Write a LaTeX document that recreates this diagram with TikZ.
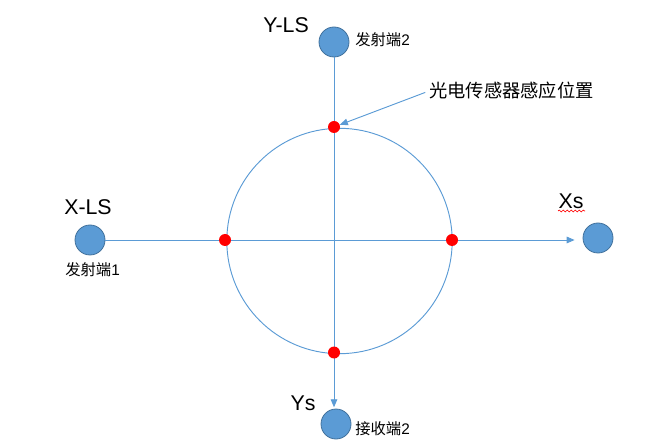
\documentclass[tikz,border=0pt]{standalone}
\usepackage{fontspec}
\setmainfont{Liberation Sans}
\newfontfamily\cjk{Noto Sans CJK SC}
\usetikzlibrary{arrows.meta,decorations.pathmorphing}
\definecolor{lsblue}{HTML}{5B9BD5}
\definecolor{lsedge}{HTML}{41719C}
\tikzset{
  lsdot/.style={circle,fill=lsblue,draw=lsedge,line width=0.6pt,minimum size=22.5pt,inner sep=0pt},
  reddot/.style={circle,fill=red,minimum size=9pt,inner sep=0pt},
  bigtxt/.style={font=\fontsize{16}{18}\selectfont,inner sep=0pt},
  smalltxt/.style={font=\fontsize{11.5}{13}\selectfont,inner sep=0pt,anchor=west},
  conn/.style={draw=lsblue,line width=0.7pt},
  arr/.style={conn,-{Triangle[length=6pt,width=5pt]}}
}
\begin{document}
\begin{tikzpicture}[x=0.75pt,y=-0.75pt]
\useasboundingbox (0,0) rectangle (648,448);
% big circle
\draw[lsblue,line width=0.7pt] (339.5,241) circle[radius=112.7];
% transmitter / receiver circles
\node[lsdot] (yls) at (334,42) {};
\node[lsdot] (xls) at (90,240) {};
\node[lsdot] (xs) at (598,238) {};
\node[lsdot] (ys) at (336,424) {};
% axes
\draw[arr,shorten >=6pt] (xls) -- (xs.west |- xls);
\draw[arr,shorten >=1pt] (yls) -- (yls |- ys.north);
% sensor points
\node[reddot] (dtop) at (334,127) {};
\node[reddot] (dbot) at (334,352.5) {};
\node[reddot] (dleft) at (225,240) {};
\node[reddot] (dright) at (452,240) {};
% labels
\node[bigtxt] (tyls) at (286,25) {Y-LS};
\node[bigtxt] (txls) at (88,207) {X-LS};
\node[bigtxt] (txs) at (571,201) {Xs};
\node[bigtxt] (tys) at (303,403) {Ys};
\node[smalltxt] (l2) at (355,40) {{\cjk 发射端}2};
\node[smalltxt] (l1) at (65,270) {{\cjk 发射端}1};
\node[smalltxt] (l3) at (355,429) {{\cjk 接收端}2};
\node[font=\cjk\fontsize{13.7}{15}\selectfont,inner sep=0pt,anchor=west] (pos) at (429,91) {光电传感器感应位置};
\draw[arr,shorten <=3pt] (pos.west) -- (dtop);
% spell-check underline
\draw[red,line width=0.5pt,decorate,decoration={snake,segment length=3pt,amplitude=0.7pt}] (558,211) -- (585,211);
\end{tikzpicture}
\end{document}
